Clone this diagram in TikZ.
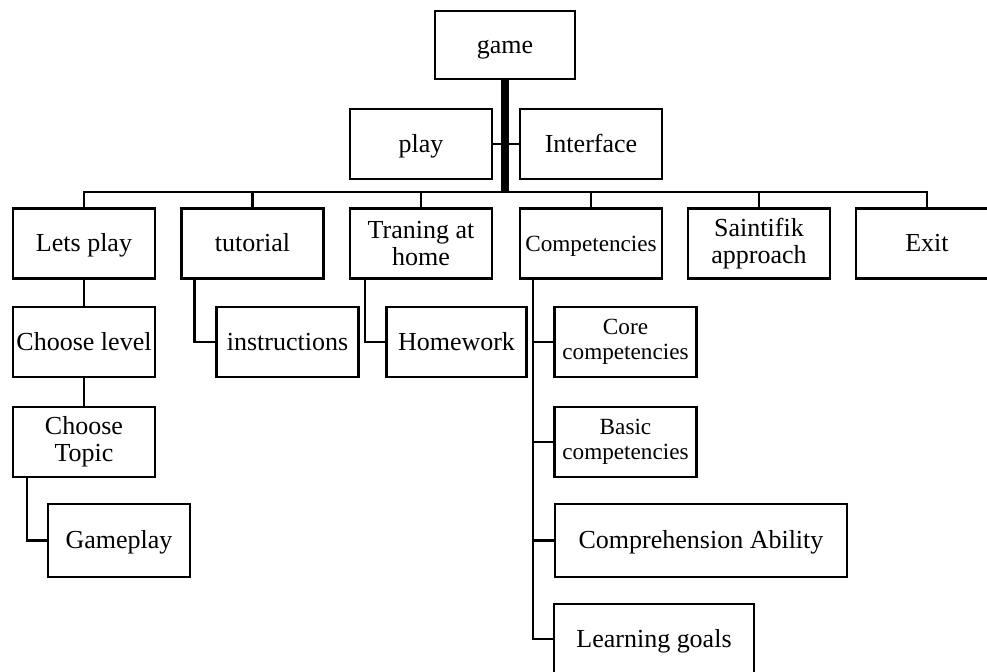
\documentclass[tikz,border=0pt]{standalone}
\usepackage{fontspec}
\setmainfont{Liberation Serif}

\tikzset{
  box/.style={draw=black, line width=1.1pt, minimum width=71pt, minimum height=35pt,
    inner sep=1pt, align=center, text height=10pt, text depth=2pt,
    font=\fontsize{13}{13.5}\selectfont},
  smallbox/.style={box, font=\fontsize{11.6}{12.5}\selectfont},
  twoline/.style={text height={}, text depth={}},
  link/.style={black, line width=1.1pt},
  trunk/.style={black, line width=3.6pt},
}

\begin{document}
\begin{tikzpicture}[x=0.5pt, y=-0.5pt]
    \clip (0,0) rectangle (987,671);

    \node[box, minimum width=70pt, minimum height=34pt] (game) at (505,45) {game};
    \node[box] (play) at (421,144) {play};
    \node[box] (iface) at (591,144) {Interface};

    \node[box] (lets) at (84,243.5) {Lets play};
    \node[box] (tut) at (252.5,243.5) {tutorial};
    \node[box, twoline] (home) at (421,243.5) {Traning at\\home};
    \node[smallbox] (comp) at (591,243.5) {Competencies};
    \node[box, twoline] (sci) at (759,243.5) {Saintifik\\approach};
    \node[box] (exit) at (927,243.5) {Exit};

    \node[box] (level) at (84,342) {Choose level};
    \node[box, twoline] (topic) at (84,442) {Choose\\Topic};
    \node[box, minimum height=36.5pt] (gameplay) at (119,540.5) {Gameplay};

    \node[box] (instr) at (287.5,342) {instructions};
    \node[box, minimum width=70pt] (homework) at (456.5,342) {Homework};

    \node[smallbox, twoline] (core) at (625.5,342) {Core\\competencies};
    \node[smallbox, twoline] (basic) at (625.5,442) {Basic\\competencies};
    \node[box, minimum width=146pt, minimum height=36.5pt] (compr) at (701,540.5) {Comprehension Ability};
    \node[box, minimum width=100pt] (goals) at (654,639) {Learning goals};

    \coordinate (bus) at (505,192);
    \draw[link] (play) -- (iface);
    \draw[link] (lets.north) |- (exit.north |- bus) -- (exit.north);
    \foreach \n in {tut,home,comp,sci}
      \draw[link] (\n.north |- bus) -- (\n.north);
    \draw[trunk] (game.south) -- (game.south |- bus);

    \draw[link] (lets) -- (level);
    \draw[link] (level) -- (topic);
    \draw[link] ([xshift=7.5pt]topic.south west) |- (gameplay);
    \draw[link] ([xshift=7pt]tut.south west) |- (instr);
    \draw[link] ([xshift=8pt]home.south west) |- (homework);

    \coordinate (cbr) at ([xshift=7pt]comp.south west);
    \draw[link] (cbr) |- (goals);
    \foreach \n in {core,basic,compr}
      \draw[link] (cbr |- \n) -- (\n);
\end{tikzpicture}
\end{document}
